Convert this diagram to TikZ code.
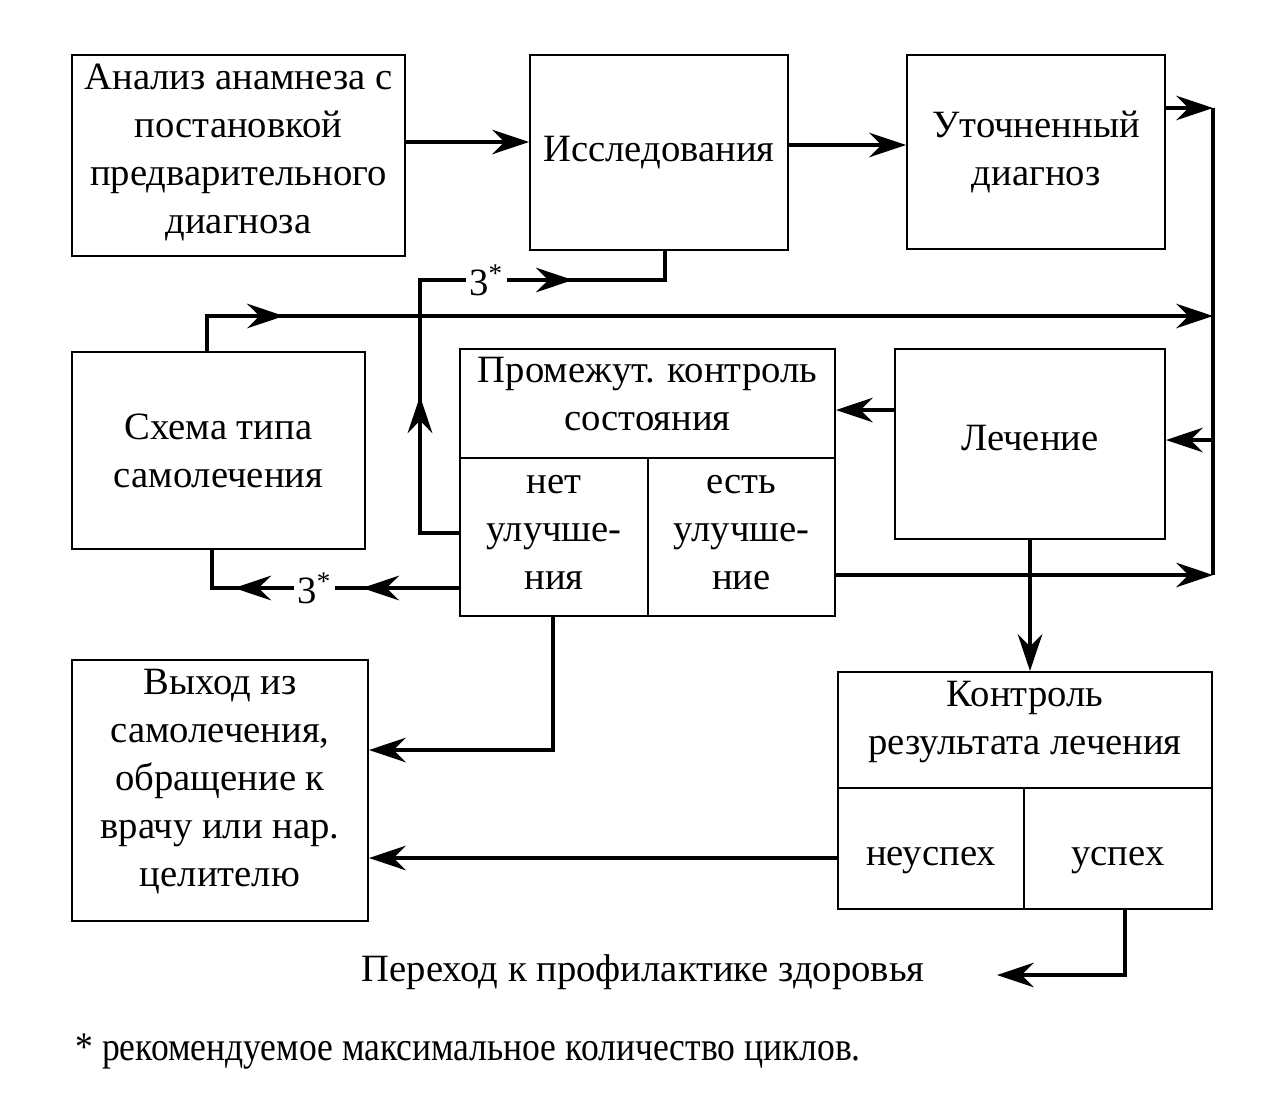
\documentclass[tikz,border=0pt]{standalone}
\usepackage{fontspec}
\setmainfont{Liberation Serif}
\usetikzlibrary{arrows.meta,decorations.markings,calc}
\newcommand\myfs{\fontsize{22}{27.3}\selectfont}
\newcommand\liftup[2]{\raisebox{#1}[\height][\depth]{\begin{tabular}{@{}c@{}}#2\end{tabular}}}
\begin{document}
\begin{tikzpicture}[x=0.02cm,y=-0.02cm,
  >={Stealth[length=21pt,width=14pt,inset=7pt]},
  box/.style={draw,line width=1.1pt,align=center,inner sep=0pt,font=\myfs},
  conn/.style={line width=2.1pt},
  busline/.style={line width=2.6pt},
  lbl/.style={fill=white,inner sep=2pt,font=\myfs},
  plain/.style={font=\myfs,inner sep=0pt}]
\useasboundingbox (0,0) rectangle (1280,1113);

% boxes
\node[box,minimum width=333*0.02cm,minimum height=201*0.02cm] (b1) at (238.5,155.5)
  {\liftup{2pt}{Анализ анамнеза с\\постановкой\\предварительного\\диагноза}};
\node[box,minimum width=258*0.02cm,minimum height=195*0.02cm] (b2) at (659,152.5)
  {Исследования};
\node[box,minimum width=258*0.02cm,minimum height=194*0.02cm] (b3) at (1036,152)
  {Уточненный\\диагноз};
\node[box,minimum width=293*0.02cm,minimum height=197*0.02cm] (shema) at (218.5,450.5)
  {Схема типа\\самолечения};
\node[box,minimum width=375*0.02cm,minimum height=109*0.02cm] (pk) at (647.5,403.5)
  {\liftup{4pt}{Промежут. контроль\\состояния}};
\node[box,minimum width=188*0.02cm,minimum height=158*0.02cm] (no) at (554,537)
  {\liftup{3pt}{нет\\улучше-\\ния}};
\node[box,minimum width=187*0.02cm,minimum height=158*0.02cm] (yes) at (741.5,537)
  {\liftup{3pt}{есть\\улучше-\\ние}};
\node[box,minimum width=270*0.02cm,minimum height=190*0.02cm] (lech) at (1030,444)
  {\liftup{1.5pt}{Лечение}};
\node[box,minimum width=296*0.02cm,minimum height=261*0.02cm] (vyh) at (220,790.5)
  {\liftup{5.7pt}{Выход из\\самолечения,\\обращение к\\врачу или нар.\\целителю}};
\node[box,minimum width=374*0.02cm,minimum height=116*0.02cm] (kr) at (1025,730)
  {\liftup{5pt}{Контроль\\результата лечения}};
\node[box,minimum width=186*0.02cm,minimum height=121*0.02cm] (fail) at (931,848.5)
  {\liftup{-4pt}{неуспех}};
\node[box,minimum width=188*0.02cm,minimum height=121*0.02cm] (succ) at (1118,848.5)
  {\liftup{-4pt}{успех}};

\node[plain] (prof) at (643,972) {Переход к профилактике здоровья};
\node[plain,anchor=west] (foot) at (75,1052)
  {\scalebox{0.92}[1.05]{* рекомендуемое максимальное количество циклов.}};

% helper coordinates
\coordinate (bus) at (1213,0);
\coordinate (L108) at (0,108);
\coordinate (L142) at (0,142);
\coordinate (L145) at (0,145);
\coordinate (L280) at (0,280);
\coordinate (L316) at (0,316);
\coordinate (L410) at (0,410);
\coordinate (L440) at (0,440);
\coordinate (L533) at (0,533);
\coordinate (L575) at (0,575);
\coordinate (L588) at (0,588);
\coordinate (L750) at (0,750);
\coordinate (L858) at (0,858);
\coordinate (L975) at (0,975);
\coordinate (X207) at (207,0);
\coordinate (X212) at (212,0);
\coordinate (X420) at (420,0);
\coordinate (X553) at (553,0);
\coordinate (X665) at (665,0);
\coordinate (X1125) at (1125,0);
\coordinate (profend) at (997,975);

% connectors
\draw[conn,->] (b1.east |- L142) -- (b2.west |- L142);
\draw[conn,->] (b2.east |- L145) -- (b3.west |- L145);
\draw[busline] (bus |- L108) -- (bus |- L575);
\draw[conn,->] (b3.east |- L108) -- (bus |- L108);
\draw[conn,->] (bus |- L440) -- (lech.east |- L440);
\draw[conn,->] (lech.west |- L410) -- (pk.east |- L410);
\draw[conn,->] (yes.east |- L575) -- (bus |- L575);
\draw[conn,->,postaction={decorate},
  decoration={markings,mark=at position 2.24cm with {\arrow{>}}}]
  (X207 |- shema.north) -- (X207 |- L316) -- (bus |- L316);
\draw[conn,postaction={decorate},
  decoration={markings,mark=at position 3.52cm with {\arrow{>}},
                       mark=at position 8.9cm with {\arrow{>}}}]
  (no.west |- L533) -- (X420 |- L533) -- (X420 |- L280)
  -- node[lbl,pos=0.27] (n3a) {3\textsuperscript{*}} (X665 |- L280) -- (X665 |- b2.south);
\draw[conn,postaction={decorate},
  decoration={markings,mark=at position 1.94cm with {\arrow{>}},
                       mark=at position 4.5cm with {\arrow{>}}}]
  (no.west |- L588) -- node[lbl,pos=0.585] (n3b) {3\textsuperscript{*}} (X212 |- L588)
  -- (X212 |- shema.south);
\draw[conn,->] (X553 |- no.south) -- (X553 |- L750) -- (vyh.east |- L750);
\draw[conn,->] (lech.south) -- (lech.south |- kr.north);
\draw[conn,->] (fail.west |- L858) -- (vyh.east |- L858);
\draw[conn,->] (X1125 |- succ.south) -- (X1125 |- L975) -- (profend);
\end{tikzpicture}
\end{document}
